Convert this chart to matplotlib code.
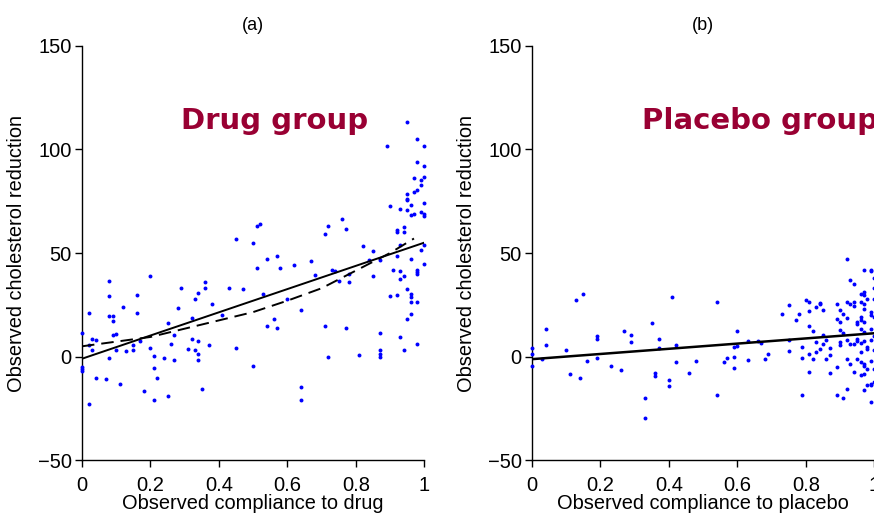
import matplotlib
matplotlib.use("Agg")
import matplotlib.pyplot as plt

# Panel (a): drug group, observed compliance vs cholesterol reduction
drug_x = [0, 0, 0, 0, 0.02, 0.02, 0.02, 0.03, 0.03, 0.04, 0.04, 0.07, 0.08, 0.08, 0.08, 0.08,
          0.09, 0.09, 0.09, 0.10, 0.10, 0.11, 0.12, 0.13, 0.15, 0.15, 0.16, 0.16, 0.17, 0.18,
          0.20, 0.20, 0.21, 0.21, 0.21, 0.22, 0.24, 0.25, 0.25, 0.26, 0.27, 0.27, 0.28, 0.29,
          0.31, 0.32, 0.32, 0.33, 0.33, 0.34, 0.34, 0.34, 0.34, 0.35, 0.36, 0.36, 0.37, 0.38,
          0.41, 0.43, 0.45, 0.45, 0.47, 0.50, 0.50, 0.51, 0.51, 0.52, 0.53, 0.54, 0.54, 0.56,
          0.57, 0.57, 0.58, 0.60, 0.62, 0.64, 0.64, 0.64, 0.67, 0.68, 0.71, 0.71, 0.72, 0.72,
          0.73, 0.74, 0.75, 0.76, 0.77, 0.77, 0.78, 0.78, 0.81, 0.82, 0.84, 0.85, 0.85, 0.87,
          0.87, 0.87, 0.87, 0.87, 0.89, 0.90, 0.90, 0.91, 0.92, 0.92, 0.92, 0.92, 0.93, 0.93,
          0.93, 0.93, 0.93, 0.94, 0.94, 0.94, 0.94, 0.95, 0.95, 0.95, 0.95, 0.95, 0.95, 0.95,
          0.96, 0.96, 0.96, 0.96, 0.96, 0.96, 0.96, 0.97, 0.97, 0.97, 0.98, 0.98, 0.98, 0.98,
          0.98, 0.98, 0.98, 0.98, 0.99, 0.99, 0.99, 0.99, 1.0, 1.0, 1.0, 1.0, 1.0, 1.0, 1.0, 1.0]
drug_y = [11.4, -5, -6, -7, 21, 5.8, -23, 8.7, 3, 8.2, -10.3, -10.6, 36.4, 29.3, 19.8, -0.6,
          19.8, 17, 10.6, 11.1, 3.4, -13, 24, 2.6, 5.5, 3, 29.8, 21.2, 7.6, -16.6,
          39, 4.3, 0.2, -5.6, -21, -10.3, -0.6, 16, -19, 6, -1.4, 10.6, 23.5, 33,
          3.9, 18.8, 8.4, 27.7, 3.2, 30.6, 7.7, 1.1, -1.4, -15.6, 36.2, 33.3, 5.5, 25.4,
          20.3, 33.2, 56.7, 4.2, 32.5, 54.6, -4.3, 62.8, 42.8, 64.2, 30.3, 47.3, 14.6, 18,
          48.8, 13.8, 43, 27.7, 44.4, 22.5, -14.5, -20.8, 46.2, 39.3, 59.4, 14.6, 62.9, 0,
          42, 41.4, 36.4, 66.6, 61.6, 13.8, 40, 36, 1, 53.4, 46.5, 51, 39, 11.6,
          46.8, 3, 1.4, -0.2, 101.7, 72.6, 29.5, 42, 61, 59.9, 48.6, 29.6, 71, 53.8,
          41.4, 37.7, 9.5, 62.6, 59.9, 39, 3.4, 113.3, 78.7, 76.3, 75.5, 70.7, 32.5, 18.3,
          73.1, 68.2, 47.3, 30.4, 28.8, 26.4, 20.8, 86, 79.5, 69, 104.8, 94, 80.3, 42,
          40.9, 40.1, 26.4, 6, 85.1, 82.7, 69.8, 51.3, 101.7, 91.9, 86.8, 73.9, 69, 67.8, 53.8, 44.6]

# fitted lines, panel (a)
drug_fit_x = [0, 1]
drug_fit_y = [-1, 55]
drug_curve_x = [0, 0.2, 0.4, 0.5, 0.6, 0.7, 0.8, 0.9, 0.97]
drug_curve_y = [5, 9.5, 17.5, 21.5, 27, 33, 41.5, 50, 57]

# Panel (b): placebo group
plac_x = [0, 0, 0, 0.03, 0.04, 0.04, 0.10, 0.11, 0.13, 0.14, 0.15, 0.16, 0.19, 0.19, 0.19,
          0.23, 0.26, 0.27, 0.29, 0.29, 0.33, 0.33, 0.35, 0.36, 0.36, 0.37, 0.37, 0.40, 0.40,
          0.41, 0.42, 0.42, 0.46, 0.48, 0.54, 0.54, 0.56, 0.57, 0.59, 0.59, 0.59, 0.60, 0.60,
          0.63, 0.63, 0.66, 0.67, 0.68, 0.69, 0.73, 0.75, 0.75, 0.75, 0.77, 0.78, 0.79, 0.79,
          0.79, 0.80, 0.81, 0.81, 0.81, 0.81, 0.81, 0.82, 0.82, 0.83, 0.84, 0.84, 0.83, 0.83,
          0.84, 0.85, 0.85, 0.85, 0.86, 0.86, 0.87, 0.87, 0.87, 0.89, 0.89, 0.89, 0.89, 0.90,
          0.90, 0.90, 0.90, 0.90, 0.91, 0.91, 0.91, 0.92, 0.92, 0.92, 0.92, 0.92, 0.92, 0.93,
          0.93, 0.93, 0.93, 0.94, 0.94, 0.94, 0.94, 0.94, 0.95, 0.95, 0.95, 0.95, 0.95, 0.96,
          0.96, 0.96, 0.96, 0.96, 0.96, 0.96, 0.96, 0.96, 0.97, 0.97, 0.97, 0.97, 0.97, 0.97,
          0.97, 0.97, 0.97, 0.97, 0.97, 0.97, 0.98, 0.98, 0.98, 0.98, 0.98, 0.99, 0.99, 0.99,
          0.99, 0.99, 0.99, 0.99, 0.99, 0.99, 0.99, 1.0, 1.0, 1.0, 1.0, 1.0, 1.0, 1.0, 1.0]
plac_y = [4.2, 1.4, -4.7, -1.3, 13.2, 5.8, 3, -8.5, 27.2, -10.3, 30.4, -2.1, 9.8, 8.7, -0.6,
          -4.5, -6.6, 12.4, 10.6, 6.9, -20, -29.5, 16.3, -7.7, -9.3, 8.4, 4.2, -11.1, -14.3,
          28.8, 5.8, -2.6, -7.7, -2.3, 26.2, -18.7, -2.6, -0.6, 4.7, -0.2, -5.3, 12.2, 5.2,
          7.6, -1.4, 7.6, 6.8, -1.3, 1.4, 20.8, 25.1, 7.9, 2.6, 17.9, 20.8, 4.7, -0.6,
          -18.7, 27.2, 26.2, 22, 14.6, 1.1, -7.4, 12.2, -1, 24, 26, 25.3, 7.1, 2.3,
          3.9, 22.4, 10.6, 6.3, 7.9, -1, 4.2, 0.6, -7.9, 25.3, 18.3, -5, -18.7, 22.4,
          16.7, 12.7, 7.1, 5.8, 20.8, 11.4, -20, 47, 26.4, 18.7, 7.9, -1, -15.5, 37.2,
          25.6, 6.3, -3.4, 34.9, 26.4, 24.3, 6, -7.4, 16.7, 15.9, 8.7, 7.6, -1, 30.4,
          26.4, 19.2, 17.9, 13.5, 6.6, 2.3, -2.6, -8.7, 42, 31.2, 29.6, 25.3, 23.2, 16.7,
          11.9, 7.6, -3.4, -4.5, -8.2, -16.3, 28, 4.7, 3.9, -5.8, -13.8, 42, 41.2, 21.6,
          20, 13.5, 8.2, -2.3, -13, -13.8, -21.9, 38, 28, 19, 10, 3, -6, -12, 33]

plac_fit_x = [0, 1]
plac_fit_y = [-1.2, 11.3]

x_ticks = [0, 0.2, 0.4, 0.6, 0.8, 1]
x_ticklabels = ["0", "0.2", "0.4", "0.6", "0.8", "1"]
y_ticks = [-50, 0, 50, 100, 150]

plt.rcParams["font.family"] = ["Liberation Sans", "DejaVu Sans"]
plt.rcParams["lines.scale_dashes"] = False

fig = plt.figure(figsize=(8.74, 5.15), dpi=100)
ax_a = fig.add_axes([0.0938, 0.1062, 0.3916, 0.805])
ax_b = fig.add_axes([0.6087, 0.1062, 0.3916, 0.805])

group_color = "#990033"

panels = [
    (ax_a, drug_x, drug_y, "(a)", "Drug group", 0.29, "Observed compliance to drug"),
    (ax_b, plac_x, plac_y, "(b)", "Placebo group", 0.32, "Observed compliance to placebo"),
]
for ax, xs, ys, tag, group, gx, xlabel in panels:
    ax.scatter(xs, ys, s=8, c="#0000ff", marker="o", linewidths=0, clip_on=False, zorder=3)
    ax.set_xlim(0, 1)
    ax.set_ylim(-50, 150)
    ax.set_xticks(x_ticks)
    ax.set_xticklabels(x_ticklabels)
    ax.set_yticks(y_ticks)
    for side in ("top", "right"):
        ax.spines[side].set_visible(False)
    for side in ("left", "bottom"):
        ax.spines[side].set_linewidth(1.0)
    ax.tick_params(direction="out", length=5, width=1.0, labelsize=14.5)
    ax.tick_params(axis="x", pad=6)
    ax.tick_params(axis="y", pad=2.5)
    ax.set_title(tag, fontsize=13, pad=11)
    ax.set_xlabel(xlabel, fontsize=14.4)
    ax.set_ylabel("Observed cholesterol reduction", fontsize=14.4)
    ax.xaxis.set_label_coords(0.5, -0.082)
    ax.yaxis.set_label_coords(-0.164, 0.5)
    ax.text(gx, 110, group, fontsize=21, fontweight="bold", color=group_color,
            family="DejaVu Sans", ha="left", va="baseline", clip_on=False)

ax_a.plot(drug_fit_x, drug_fit_y, color="black", lw=1.4, zorder=4)
ax_a.plot(drug_curve_x, drug_curve_y, color="black", lw=1.4, dashes=(9, 5), zorder=4)
ax_b.plot(plac_fit_x, plac_fit_y, color="black", lw=1.8, zorder=4)

fig.savefig("out.png", dpi=100)
